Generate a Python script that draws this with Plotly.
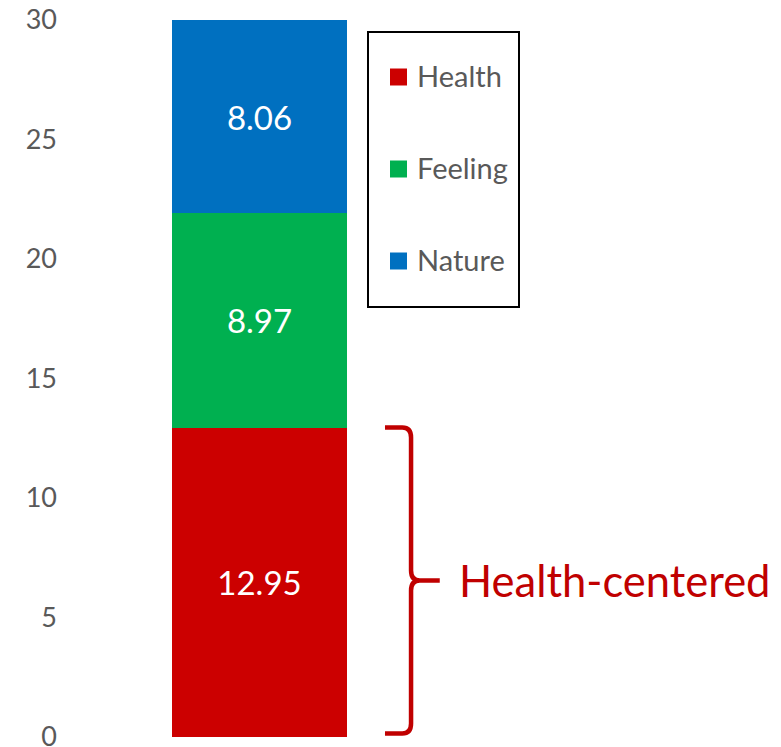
import plotly.graph_objects as go

categories = ["Total"]
series_names = ["Health", "Feeling", "Nature"]
health = [12.95]
feeling = [8.97]
nature = [8.06]
colors = ["#CC0000", "#00B050", "#0070C0"]
tick_vals = [0, 5, 10, 15, 20, 25, 30]
brace_label = "Health-centered"

FONT = "Lato"
GREY = "#595959"

# page body has an 8px margin; plot area spans screen x 62..781, y 20..737
L, T = 62, 20
PW, PH = 719, 717


def px(sx):
    return (sx - L) / PW


def py(sy):
    return (T + PH - sy) / PH


fig = go.Figure()
xpos = [0]
for name, vals, col in zip(series_names, [health, feeling, nature], colors):
    fig.add_trace(go.Bar(
        x=xpos, y=vals, name=name, width=1,
        marker=dict(color=col, line=dict(width=0)),
        texttemplate="%{y:.2f}", textposition="inside",
        insidetextanchor="middle",
        textfont=dict(color="white", size=33, family=FONT),
        showlegend=False, hoverinfo="skip",
    ))

# Legend drawn as a boxed key
fig.add_shape(type="rect", xref="paper", yref="paper",
              x0=px(368), x1=px(519), y0=py(307), y1=py(32),
              line=dict(color="black", width=2), fillcolor="white")
for i, (name, col) in enumerate(zip(series_names, colors)):
    cy = 77 + 92 * i
    fig.add_shape(type="rect", xref="paper", yref="paper",
                  x0=px(390), x1=px(407), y0=py(cy + 8.5), y1=py(cy - 8.5),
                  line=dict(width=0), fillcolor=col)
    fig.add_annotation(x=px(415), y=py(cy - 1.5), xref="paper", yref="paper",
                       text=name, showarrow=False, xanchor="left",
                       yanchor="middle",
                       font=dict(size=29, color=GREY, family=FONT))

# Curly brace spanning the Health segment
top = health[0]
bot = 0.15
mid = (top + bot) / 2
xL, xV, xT = 0.717, 0.866, 1.03
rx, ry = 0.05, 0.42
path = (
    f"M {xL},{top} L {xV-rx},{top} Q {xV},{top} {xV},{top-ry} "
    f"L {xV},{mid+ry} Q {xV},{mid} {xV+rx},{mid} L {xT},{mid} "
    f"M {xL},{bot} L {xV-rx},{bot} Q {xV},{bot} {xV},{bot+ry} "
    f"L {xV},{mid-ry} Q {xV},{mid} {xV+rx},{mid}"
)
fig.add_shape(type="path", path=path, xref="x", yref="y",
              line=dict(color="#C00000", width=4.5))
fig.add_annotation(x=1.13, y=mid, xref="x", yref="y", text=brace_label,
                   showarrow=False, xanchor="left", yanchor="middle",
                   font=dict(color="#C00000", size=43.5, family=FONT))

fig.update_layout(
    width=773, height=747,
    margin=dict(l=54, r=0, t=12, b=18, autoexpand=False),
    barmode="stack",
    plot_bgcolor="white", paper_bgcolor="white",
    showlegend=False,
    xaxis=dict(range=[-1.1286, 2.98], visible=False, fixedrange=True,
               automargin=False),
    yaxis=dict(range=[0, 30], tickvals=tick_vals, showgrid=False,
               zeroline=False, showline=False, ticks="",
               tickfont=dict(size=27, color=GREY, family=FONT),
               ticklabelstandoff=4, ticklabeloverflow="allow",
               automargin=False),
)

fig.write_html("out.html")
